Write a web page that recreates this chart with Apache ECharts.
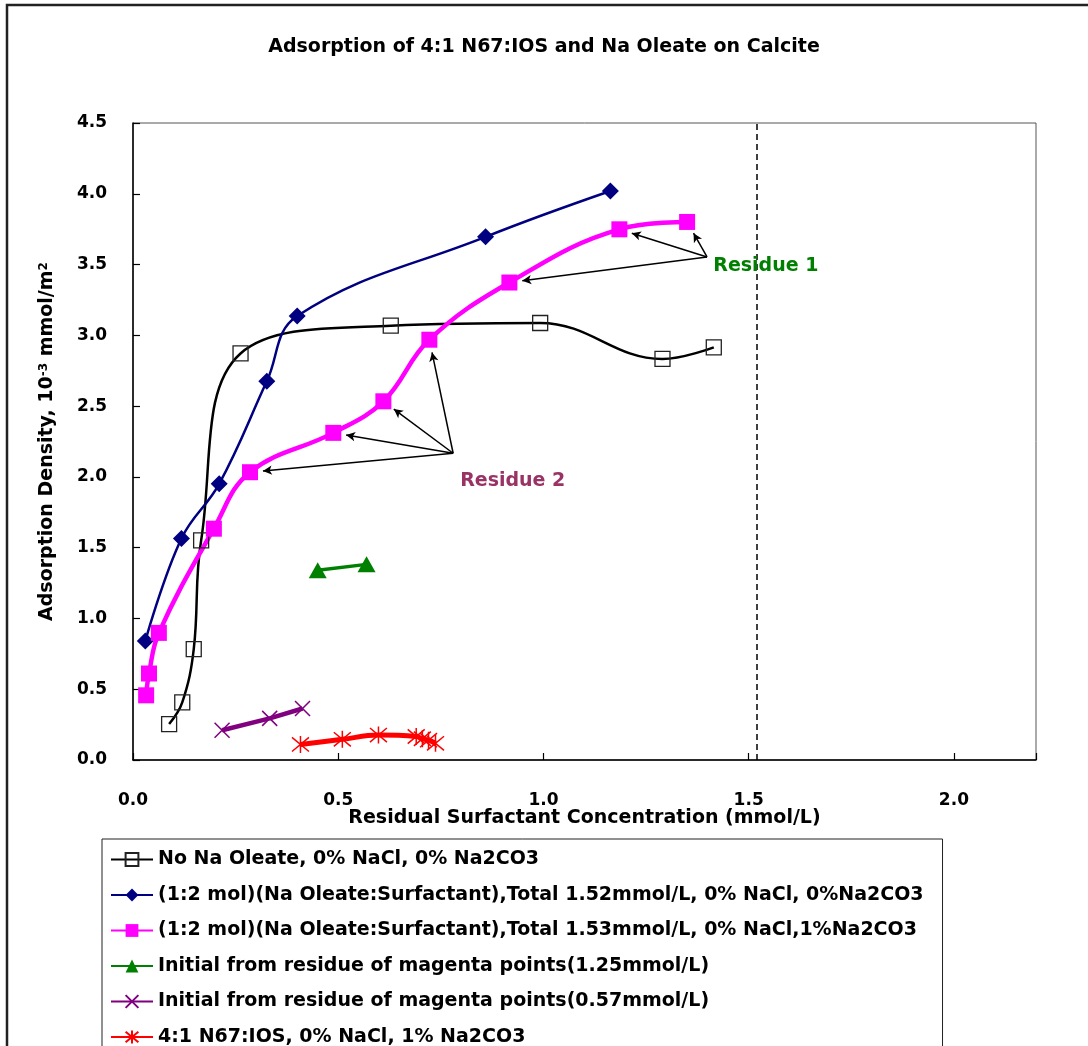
<!DOCTYPE html>
<html>
<head>
<meta charset="utf-8">
<title>Adsorption of 4:1 N67:IOS and Na Oleate on Calcite</title>
<script src="https://cdn.jsdelivr.net/npm/echarts@6/dist/echarts.min.js"></script>
<style>
    html, body { margin: 0; padding: 0; background: #fff; }
    #chart { width: 1088px; height: 1046px; }
</style>
</head>
<body>
<div id="chart"></div>
<script>
// values: x = residual conc (mmol/L), y = 10^-3 mmol/m2
const noOleateX = [0.088, 0.120, 0.148, 0.166, 0.262, 0.628, 0.992, 1.290, 1.415];
const noOleateY = [0.254, 0.407, 0.783, 1.551, 2.872, 3.068, 3.087, 2.833, 2.915];

const blueX = [0.030, 0.118, 0.210, 0.326, 0.400, 0.859, 1.163];
const blueY = [0.840, 1.565, 1.951, 2.675, 3.136, 3.696, 4.020];

const magentaX = [0.032, 0.039, 0.063, 0.197, 0.285, 0.488, 0.610, 0.722, 0.917, 1.185, 1.350];
const magentaY = [0.457, 0.611, 0.898, 1.634, 2.033, 2.311, 2.534, 2.969, 3.373, 3.749, 3.801];

const greenX = [0.450, 0.569];
const greenY = [1.340, 1.382];

const purpleX = [0.217, 0.333, 0.413];
const purpleY = [0.210, 0.294, 0.364];

const redX = [0.408, 0.510, 0.598, 0.690, 0.705, 0.720, 0.737];
const redY = [0.110, 0.146, 0.176, 0.166, 0.150, 0.140, 0.118];

const seriesNames = [
    'No Na Oleate, 0% NaCl, 0% Na2CO3',
    '(1:2 mol)(Na Oleate:Surfactant),Total 1.52mmol/L, 0% NaCl, 0%Na2CO3',
    '(1:2 mol)(Na Oleate:Surfactant),Total 1.53mmol/L, 0% NaCl,1%Na2CO3',
    'Initial from residue of magenta points(1.25mmol/L)',
    'Initial from residue of magenta points(0.57mmol/L)',
    '4:1 N67:IOS, 0% NaCl, 1% Na2CO3'
];

const xTicks = [0, 0.5, 1.0, 1.5, 2.0];
const totalConc = 1.52;   // dashed vertical line

// annotations: label anchor and which magenta points the arrows go to
const residue1Origin = [1.3985, 3.554];
const residue1Targets = [8, 9, 10];
const residue1Label = [1.4137, 3.49];
const residue2Origin = [0.780, 2.167];
const residue2Targets = [4, 5, 6, 7];
const residue2Label = [0.797, 1.968];

const FONT = '"DejaVu Sans", "Liberation Sans", sans-serif';

function zip(xs, ys) {
    return xs.map(function (x, i) { return [x, ys[i]]; });
}

const chart = echarts.init(document.getElementById('chart'));

const option = {
    animation: false,
    backgroundColor: '#fff',
    title: {
        text: 'Adsorption of 4:1 N67:IOS and Na Oleate on Calcite',
        left: 'center',
        top: 33,
        textStyle: { fontFamily: FONT, fontWeight: 'bold', fontSize: 19, color: '#000' }
    },
    grid: {
        left: 133,
        right: 52,
        top: 123,
        bottom: 286,
        show: true,
        borderColor: '#555',
        borderWidth: 1
    },
    legend: {
        orient: 'vertical',
        left: 102,
        top: 839,
        height: 260,
        padding: [11, 19, 10, 8],
        itemWidth: 42,
        itemHeight: 16,
        itemGap: 16.5,
        borderColor: '#222',
        borderWidth: 1,
        selectedMode: false,
        data: seriesNames,
        textStyle: { fontFamily: FONT, fontWeight: 'bold', fontSize: 19, color: '#000' }
    },
    xAxis: {
        type: 'value',
        min: 0,
        max: 2.2,
        interval: 0.5,
        name: 'Residual Surfactant Concentration (mmol/L)',
        nameLocation: 'middle',
        nameGap: 49,
        nameMoveOverlap: false,
        nameTextStyle: { fontFamily: FONT, fontWeight: 'bold', fontSize: 19, color: '#000' },
        axisLine: { lineStyle: { color: '#000', width: 1.5 } },
        axisTick: { inside: true, length: 7, lineStyle: { color: '#000', width: 1.2 } },
        axisLabel: {
            margin: 32,
            fontFamily: FONT, fontWeight: 'bold', fontSize: 17, color: '#000',
            formatter: function (v) {
                return xTicks.indexOf(v) >= 0 ? v.toFixed(1) : '';
            }
        },
        splitLine: { show: false }
    },
    yAxis: {
        type: 'value',
        min: 0,
        max: 4.5,
        interval: 0.5,
        name: 'Adsorption Density, 10{sup|-3} mmol/m{sup|2}',
        nameLocation: 'middle',
        nameGap: 76,
        nameMoveOverlap: false,
        nameTextStyle: {
            fontFamily: FONT, fontWeight: 'bold', fontSize: 19, color: '#000',
            rich: {
                sup: { fontFamily: FONT, fontWeight: 'bold', fontSize: 12, color: '#000', verticalAlign: 'top' }
            }
        },
        axisLine: { show: true, lineStyle: { color: '#000', width: 1.5 } },
        axisTick: { show: true, inside: true, length: 7, lineStyle: { color: '#000', width: 1.2 } },
        axisLabel: {
            margin: 26,
            fontFamily: FONT, fontWeight: 'bold', fontSize: 17, color: '#000',
            formatter: function (v) { return v.toFixed(1); }
        },
        splitLine: { show: false }
    },
    series: [
        {
            id: 'black',
            name: seriesNames[0],
            type: 'line',
            smooth: 0.4,
            data: zip(noOleateX, noOleateY),
            symbol: 'rect',
            symbolSize: 15,
            lineStyle: { color: '#000', width: 2.5 },
            itemStyle: { color: 'rgba(255,255,255,0)', borderColor: '#222', borderWidth: 1.3 },
            markLine: {
                silent: true,
                symbol: ['none', 'none'],
                label: { show: false },
                lineStyle: { color: '#000', width: 1.5, type: [6, 4] },
                data: [{ xAxis: totalConc }]
            }
        },
        {
            id: 'blue',
            name: seriesNames[1],
            type: 'line',
            smooth: 0.4,
            data: zip(blueX, blueY),
            symbol: 'diamond',
            symbolSize: 17,
            lineStyle: { color: '#000080', width: 2.5 },
            itemStyle: { color: '#000080' }
        },
        {
            id: 'magenta',
            name: seriesNames[2],
            type: 'line',
            smooth: 0.4,
            data: zip(magentaX, magentaY),
            symbol: 'rect',
            symbolSize: 16,
            lineStyle: { color: '#ff00ff', width: 4.5 },
            itemStyle: { color: '#ff00ff' }
        },
        {
            id: 'green',
            name: seriesNames[3],
            type: 'line',
            data: zip(greenX, greenY),
            symbol: 'triangle',
            symbolSize: [18, 16],
            lineStyle: { color: '#008000', width: 3.5 },
            itemStyle: { color: '#008000' }
        },
        {
            id: 'purple',
            name: seriesNames[4],
            type: 'line',
            data: zip(purpleX, purpleY),
            symbol: 'path://M0,0L10,10M10,0L0,10',
            symbolSize: 15,
            lineStyle: { color: '#800080', width: 4.5 },
            itemStyle: { color: '#800080', borderColor: '#800080', borderWidth: 1.5 }
        },
        {
            id: 'red',
            name: seriesNames[5],
            type: 'line',
            smooth: 0.4,
            data: zip(redX, redY),
            symbol: 'path://M0,0L10,10M10,0L0,10M5,-1L5,11',
            symbolSize: 17,
            lineStyle: { color: '#ff0000', width: 5 },
            itemStyle: { color: '#ff0000', borderColor: '#ff0000', borderWidth: 1.5 }
        }
    ]
};

chart.setOption(option);

// arrows and residue labels, placed through the chart's own scales
function px(pt) {
    return chart.convertToPixel({ gridIndex: 0 }, pt);
}

function arrowsTo(origin, idx) {
    const o = px(origin);
    return idx.map(function (i) {
        const p = px([magentaX[i], magentaY[i]]);
        const dx = o[0] - p[0];
        const dy = o[1] - p[1];
        const k = 13 / Math.sqrt(dx * dx + dy * dy);
        return [{ x: o[0], y: o[1] }, { x: p[0] + dx * k, y: p[1] + dy * k }];
    });
}

const r1 = px(residue1Label);
const r2 = px(residue2Label);

chart.setOption({
    series: [{
        id: 'magenta',
        markLine: {
            silent: true,
            symbol: ['none', 'arrow'],
            symbolSize: [7, 9],
            label: { show: false },
            lineStyle: { color: '#000', width: 1.5, type: 'solid' },
            data: arrowsTo(residue1Origin, residue1Targets).concat(arrowsTo(residue2Origin, residue2Targets))
        }
    }],
    graphic: [
        {
            type: 'rect',
            shape: { x: 7, y: 5, width: 1200, height: 1200 },
            style: { fill: 'none', stroke: '#222', lineWidth: 2.5 },
            silent: true
        },
        {
            type: 'text',
            x: r1[0],
            y: r1[1],
            style: { text: 'Residue 1', fill: '#008000', font: 'bold 19px ' + FONT, verticalAlign: 'middle' },
            z: 10
        },
        {
            type: 'text',
            x: r2[0],
            y: r2[1],
            style: { text: 'Residue 2', fill: '#993366', font: 'bold 19px ' + FONT, verticalAlign: 'middle' },
            z: 10
        }
    ]
});

window.addEventListener('resize', function () {
    chart.resize();
});
</script>
</body>
</html>
